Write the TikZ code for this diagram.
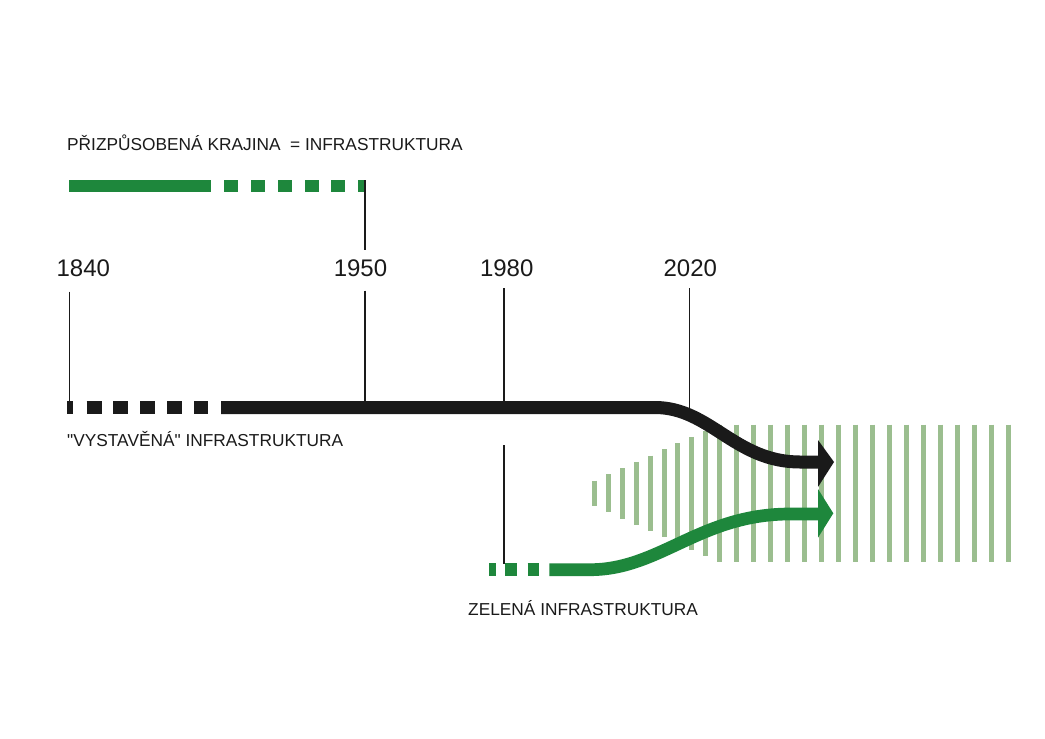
\documentclass[tikz,border=0pt]{standalone}
\usepackage{fontspec}
\setmainfont{Liberation Sans}[Ligatures=TeXOff]
\definecolor{ink}{RGB}{26,26,26}
\definecolor{gmain}{RGB}{30,135,60}
\definecolor{glight}{RGB}{155,190,143}
\begin{document}
\begin{tikzpicture}[x=1pt,y=-1pt,
  lbl/.style={font=\fontsize{17.3}{20}\selectfont, text=ink, inner sep=0pt, anchor=base west},
  yr/.style={font=\fontsize{24}{28}\selectfont, text=ink, inner sep=0pt, anchor=base},
  tick/.style={draw=ink, line width=1.3pt},
  gbar/.style={draw=gmain, line width=11.7pt, line cap=butt},
  gbarb/.style={draw=gmain, line width=12.7pt, line cap=butt},
  bbar/.style={draw=ink, line width=13pt, line cap=butt},
  stripe/.style={draw=glight, line width=5pt, line cap=butt},
]
\useasboundingbox (0,0) rectangle (1045,739);
\fill[white] (0,0) rectangle (1045,739);

% stripes
\foreach \i in {0,...,8} {
  \pgfmathsetmacro\cx{594.8+13.85*\i}
  \pgfmathsetmacro\h{12.7+6.25*\i}
  \draw[stripe] (\cx,493.3-\h) -- (\cx,493.3+\h);
}
\foreach \j in {0,...,17} {
  \pgfmathsetmacro\cx{719.5+17*\j}
  \draw[stripe] (\cx,424.7) -- (\cx,561.7);
}

% coordinates
\coordinate (t1840a) at (69.3,291.7);
\coordinate (t1840b) at (69.3,407.5);
\coordinate (t1950a) at (365,180.2);
\coordinate (t1950b) at (365,250);
\coordinate (t1950c) at (365,290.7);
\coordinate (t1950d) at (365,407.5);
\coordinate (t1980a) at (504,288.3);
\coordinate (t1980b) at (504,407.5);
\coordinate (t1980c) at (504,445);
\coordinate (t1980d) at (504,564);
\coordinate (t2020a) at (689.5,288.3);
\coordinate (t2020b) at (689.5,408);

% top green line
\draw[gbar] (69.3,186) -- (210.7,186);
\foreach \a/\b in {224.3/238.3, 251/265, 278/291.7, 305/318.7, 331.3/345, 358/365}
  \draw[gbar] (\a,186) -- (\b,186);

% ticks
\draw[tick] (t1840a) -- (t1840b);
\draw[tick] (t1950a) -- (t1950b);
\draw[tick] (t1950c) -- (t1950d);
\draw[tick] (t1980a) -- (t1980b);
\draw[tick] (t1980c) -- (t1980d);
\draw[tick] (t2020a) -- (t2020b);

% black line
\foreach \a/\b in {67.3/72.7, 86.7/101.7, 113.3/128.3, 140/155, 167.3/181.7, 194/208.3}
  \draw[bbar] (\a,407.5) -- (\b,407.5);
\draw[bbar] (221,407.5) -- (655,407.5) .. controls (710,407.5) and (735,462) .. (800,462) -- (819,462);
\fill[ink] (818,440) -- (834,462) -- (818,487) -- cycle;

% green bottom line
\foreach \a/\b in {489/495.7, 505/516.7, 527.7/539.3}
  \draw[gbarb] (\a,569.7) -- (\b,569.7);
\draw[gbarb] (549.3,569.7) -- (590,569.7) .. controls (660,569.7) and (700,514) .. (790,514) -- (819,514);
\fill[gmain] (818,489) -- (833.3,513.3) -- (818,537.7) -- cycle;

% labels
\node[lbl] (ltop) at (67,150) {PŘIZPŮSOBENÁ KRAJINA \ = INFRASTRUKTURA};
\node[lbl] (lvys) at (67,446.7) {"VYSTAVĚNÁ" INFRASTRUKTURA};
\node[lbl] (lzel) at (468,615) {ZELENÁ INFRASTRUKTURA};
\node[yr] (y1840) at (83.3,276.5) {1840};
\node[yr] (y1950) at (360.5,276.5) {1950};
\node[yr] (y1980) at (506.7,276.5) {1980};
\node[yr] (y2020) at (690.3,276.5) {2020};
\end{tikzpicture}
\end{document}
